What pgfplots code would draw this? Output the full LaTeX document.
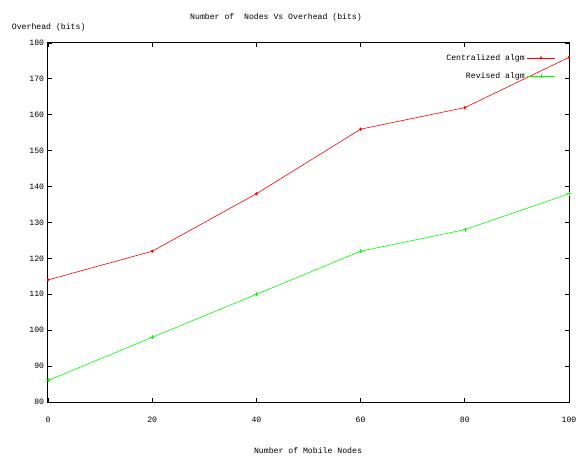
\documentclass[border=0pt]{standalone}
\usepackage{pgfplots}
\pgfplotsset{compat=1.18}
\usepackage{fontspec}
\setmainfont{Liberation Mono}
\setmonofont{Liberation Mono}
\begin{document}
\fontsize{8.2}{10}\selectfont
\begin{tikzpicture}[x=1bp,y=1bp]
\begin{axis}[
  at={(0,0)}, anchor=south west,
  scale only axis, width=521bp, height=359bp,
  xmin=0, xmax=100, ymin=80, ymax=180,
  xtick={0,20,...,100}, ytick={80,90,...,180},
  tick align=inside, major tick length=4bp,
  axis line style={line width=1bp, black},
  tick style={line width=0.8bp, black},
  /pgf/number format/assume math mode=true,
  ticklabel style={font=\fontsize{8.2}{10}\selectfont},
  xticklabel style={yshift=-12bp},
  yticklabel style={xshift=-1bp},
  legend style={draw=none, fill=none, at={(0.98,0.98)}, anchor=north east,
     font=\fontsize{8.2}{10}\selectfont, row sep=7bp},
  legend plot pos=right,
  legend cell align=right,
  legend image code/.code={\draw[mark repeat=2,mark phase=2,#1] plot coordinates {(0bp,0bp) (14bp,0bp) (28bp,0bp)};},
]
\addplot[red, line width=0.6bp, mark=diamond*, mark size=1.3bp] coordinates {
(0,114) (20,122) (40,138) (60,156) (80,162) (100,176)};
\addlegendentry{Centralized algm}
\addplot[green, line width=0.6bp, mark=+, mark size=2bp] coordinates {
(0,86) (20,98) (40,110) (60,122) (80,128) (100,138)};
\addlegendentry{Revised algm}
\end{axis}
\useasboundingbox (-48bp,-55bp) rectangle (533bp,402bp);
\node[anchor=base] at (228bp,382bp) {Number of\ \ Nodes Vs Overhead (bits)};
\node[anchor=base west] at (-39bp,372bp) {Overhead (bits)};
\node[anchor=base] at (260bp,-51bp) {Number of Mobile Nodes};
\end{tikzpicture}
\end{document}
